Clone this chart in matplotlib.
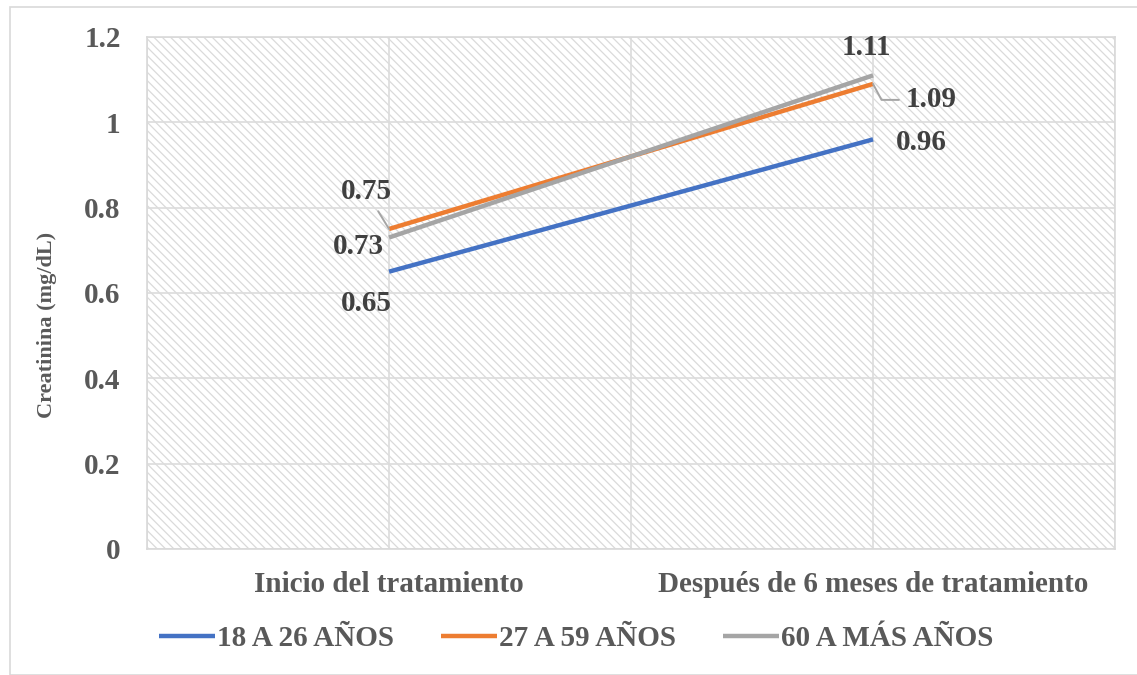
import matplotlib
matplotlib.use("Agg")
import matplotlib.pyplot as plt
from matplotlib.patches import Rectangle

plt.rcParams['font.family'] = ['Liberation Serif', 'DejaVu Serif']
plt.rcParams['font.weight'] = 'bold'
plt.rcParams['hatch.linewidth'] = 0.9

# datos
etapas = ['Inicio del tratamiento', 'Después de 6 meses de tratamiento']
grupos = ['18 A 26 AÑOS', '27 A 59 AÑOS', '60 A MÁS AÑOS']
edad_18_26 = [0.65, 0.96]
edad_27_59 = [0.75, 1.09]
edad_60_mas = [0.73, 1.11]
colores = ['#4472C4', '#ED7D31', '#A5A5A5']

series = [edad_18_26, edad_27_59, edad_60_mas]

fig = plt.figure(figsize=(11.37, 6.75), dpi=100)
ax = fig.add_axes([0.1293, 0.1867, 0.8514, 0.7585])

# fondo rayado del area de trazado
ax.add_patch(Rectangle((0, 0), 1, 1, transform=ax.transAxes, facecolor='white',
                       edgecolor='#dadada', lw=0, hatch='\\\\\\\\', zorder=0))

x = [0.5, 1.5]
for vals, nombre, c in zip(series, grupos, colores):
    ax.plot(x, vals, color=c, lw=3.2, label=nombre, solid_capstyle='butt', zorder=3)

ax.set_xlim(0, 2)
ax.set_ylim(0, 1.2)
ax.set_yticks([0, 0.2, 0.4, 0.6, 0.8, 1, 1.2])
ax.set_yticklabels(['0', '0.2', '0.4', '0.6', '0.8', '1', '1.2'])
ax.set_xticks(x)
ax.set_xticklabels(etapas)
ax.set_xticks([0, 1, 2], minor=True)
ax.tick_params(axis='both', which='both', length=0, labelsize=21, colors='#595959')
ax.tick_params(axis='x', pad=16)
ax.tick_params(axis='y', pad=19)
ax.grid(True, which='both', color='#dcdcdc', lw=1.2, zorder=1)
ax.set_axisbelow(True)
for s in ax.spines.values():
    s.set_color('#d9d9d9')
    s.set_linewidth(1.2)
ax.set_ylabel('Creatinina (mg/dL)', fontsize=16, fontweight='bold', color='#595959')
ax.yaxis.set_label_coords(-0.093, 0.4375)

tc = '#404040'
fs = 21
# etiquetas de datos
ax.annotate(f'{edad_18_26[0]:.2f}', (x[0], edad_18_26[0]), xytext=(-16.5, -23),
            textcoords='offset points', ha='center', va='center', fontsize=fs, color=tc)
ax.annotate(f'{edad_18_26[1]:.2f}', (x[1], edad_18_26[1]), xytext=(34.5, -2),
            textcoords='offset points', ha='center', va='center', fontsize=fs, color=tc)
ax.annotate(f'{edad_27_59[0]:.2f}', (x[0], edad_27_59[0]), xytext=(-16.5, 27),
            textcoords='offset points', ha='center', va='center', fontsize=fs, color=tc,
            arrowprops=dict(arrowstyle='-', color='#a5a5a5', lw=1.4, shrinkA=3, shrinkB=0))
ax.annotate(f'{edad_27_59[1]:.2f}', (x[1], edad_27_59[1]), xytext=(42, -11.5),
            textcoords='offset points', ha='center', va='center', fontsize=fs, color=tc,
            arrowprops=dict(arrowstyle='-', color='#a5a5a5', lw=1.4, shrinkA=3, shrinkB=0,
                            relpos=(0, 0.5),
                            connectionstyle='angle,angleA=0,angleB=-62,rad=0'))
ax.annotate(f'{edad_60_mas[0]:.2f}', (x[0], edad_60_mas[0]), xytext=(-22, -6.5),
            textcoords='offset points', ha='center', va='center', fontsize=fs, color=tc)
ax.annotate(f'{edad_60_mas[1]:.2f}', (x[1], edad_60_mas[1]), xytext=(-5, 20),
            textcoords='offset points', ha='center', va='center', fontsize=fs, color=tc)

fig.legend(loc='center', bbox_to_anchor=(0.507, 0.054), ncol=3, frameon=False,
           fontsize=21, handlelength=1.9, handletextpad=0.1, columnspacing=1.6,
           labelcolor='#595959')

# borde exterior del grafico
fig.add_artist(Rectangle((10 / 1137, 0), 1.2, 1 - 7 / 675, transform=fig.transFigure,
                         facecolor='none', edgecolor='#d9d9d9', lw=1.2))

fig.savefig('out.png', dpi=100)
